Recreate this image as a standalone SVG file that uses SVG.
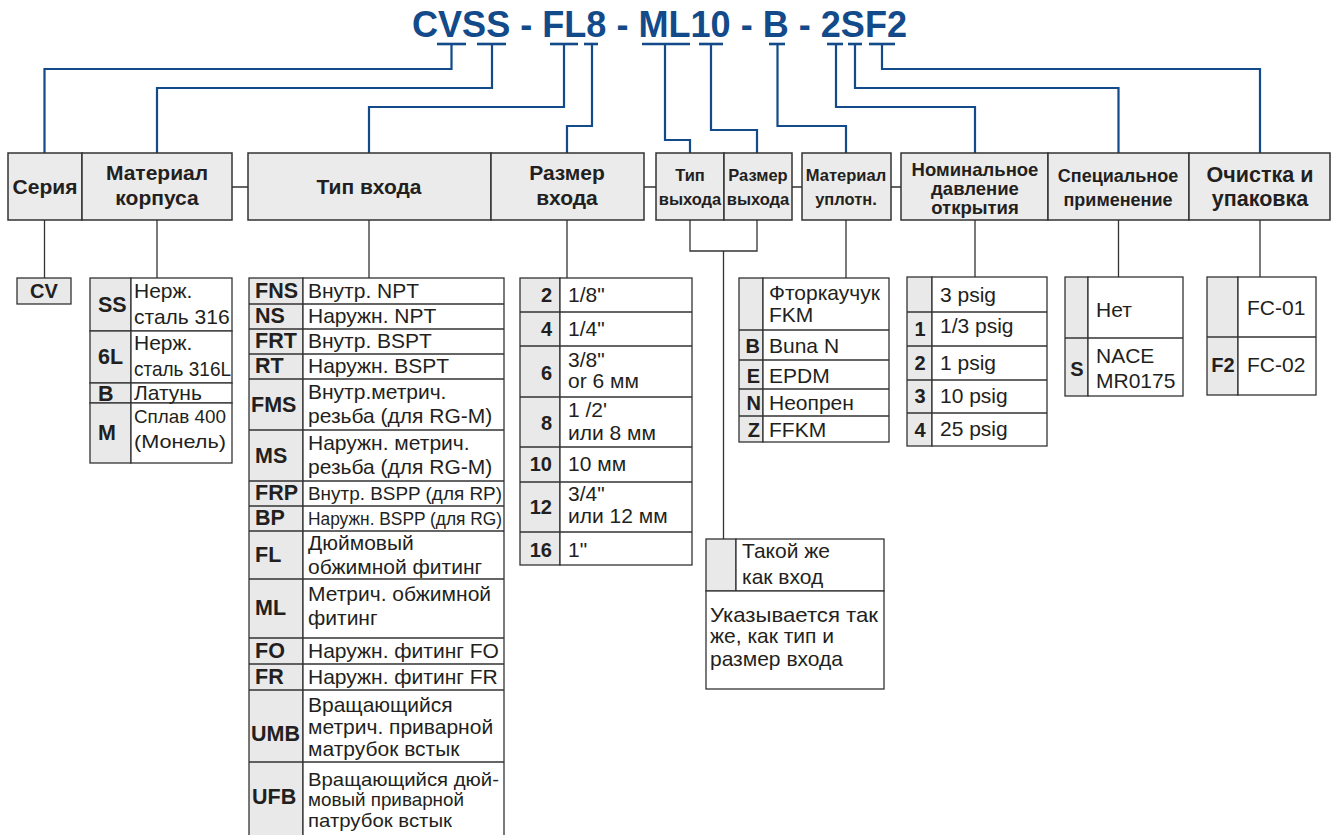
<svg xmlns="http://www.w3.org/2000/svg" width="1331" height="835" viewBox="0 0 1331 835">
<style>
.hdr{fill:#ebebeb;stroke:#333;stroke-width:1.5}
.key{fill:#e9e9e9;stroke:#333;stroke-width:1.3}
.cell{fill:#fff;stroke:#333;stroke-width:1.3}
.ln{stroke:#333;stroke-width:1.3;fill:none}
.bl{stroke:#124a8a;stroke-width:2.2;fill:none}
.bar{stroke:#124a8a;stroke-width:2.6}
.title{font-family:"Liberation Sans",Arial,sans-serif;font-weight:bold;font-size:36px;fill:#124a8a}
.ht{font-family:"Liberation Sans",Arial,sans-serif;font-weight:bold;font-size:21px;fill:#231f20;text-anchor:middle}
.hs{font-size:18.5px}
.hx{font-size:16.5px}
.t{font-family:"Liberation Sans",Arial,sans-serif;font-size:21px;fill:#231f20}
.k{font-family:"Liberation Sans",Arial,sans-serif;font-weight:bold;font-size:20px;fill:#231f20}
.kb{font-size:21.5px}
.r{text-anchor:end}
.m{text-anchor:middle}
</style>
<rect width="1331" height="835" fill="#fff"/>
<text class="title" x="412" y="37" textLength="495" lengthAdjust="spacingAndGlyphs">CVSS - FL8 - ML10 - B - 2SF2</text>

<g id="connectors">
<line class="bar" x1="437" y1="44" x2="466" y2="44"/>
<line class="bar" x1="477" y1="44" x2="506" y2="44"/>
<line class="bar" x1="550" y1="44" x2="578" y2="44"/>
<line class="bar" x1="584" y1="44" x2="598" y2="44"/>
<line class="bar" x1="642" y1="44" x2="690" y2="44"/>
<line class="bar" x1="699" y1="44" x2="723" y2="44"/>
<line class="bar" x1="769" y1="44" x2="785" y2="44"/>
<line class="bar" x1="827" y1="44" x2="843" y2="44"/>
<line class="bar" x1="848" y1="44" x2="862" y2="44"/>
<line class="bar" x1="869" y1="44" x2="895" y2="44"/>
<path class="bl" d="M451.5 44V69H44.5V153"/>
<path class="bl" d="M492 44V88H157V153"/>
<path class="bl" d="M564 44V107H369V153"/>
<path class="bl" d="M592 44V126H567V153"/>
<path class="bl" d="M665 44V140H690V153"/>
<path class="bl" d="M711 44V130H757V153"/>
<path class="bl" d="M777.5 44V126H846V153"/>
<path class="bl" d="M836 44V107H975V153"/>
<path class="bl" d="M855 44V88H1118.5V153"/>
<path class="bl" d="M882 44V69H1260V153"/>
<path class="ln" d="M232 187H248M644 187H656M792 187H802M891 187H901"/>
<path class="ln" d="M44.5 220V278M157 220V278M369 220V278M567 220V278"/>
<path class="ln" d="M690 220V251H757V220M723.5 251V539"/>
<path class="ln" d="M846 220V278M975 220V277M1118.5 220V277M1260 220V277"/>
</g>

<g id="header-series"><rect class="hdr" x="8" y="153" width="74" height="67"/><text class="ht" x="45" y="194">Серия</text></g>
<g id="header-body"><rect class="hdr" x="82" y="153" width="150" height="67"/><text class="ht" x="157" y="180">Материал</text><text class="ht" x="157" y="205">корпуса</text></g>
<g id="header-inlet-type"><rect class="hdr" x="248" y="153" width="243" height="67"/><text class="ht" x="369" y="194">Тип входа</text></g>
<g id="header-inlet-size"><rect class="hdr" x="491" y="153" width="153" height="67"/><text class="ht" x="567" y="180">Размер</text><text class="ht" x="567" y="205">входа</text></g>
<g id="header-outlet-type"><rect class="hdr" x="656" y="153" width="68" height="67"/><text class="ht hx" x="690" y="181">Тип</text><text class="ht hx" x="690" y="205">выхода</text></g>
<g id="header-outlet-size"><rect class="hdr" x="724" y="153" width="68" height="67"/><text class="ht hx" x="758" y="181">Размер</text><text class="ht hx" x="758" y="205">выхода</text></g>
<g id="header-seal"><rect class="hdr" x="802" y="153" width="89" height="67"/><text class="ht hx" x="846" y="181">Материал</text><text class="ht hx" x="846" y="205">уплотн.</text></g>
<g id="header-pressure"><rect class="hdr" x="901" y="153" width="147" height="67"/><text class="ht hs" x="975" y="176">Номинальное</text><text class="ht hs" x="975" y="195">давление</text><text class="ht hs" x="975" y="214">открытия</text></g>
<g id="header-special"><rect class="hdr" x="1048" y="153" width="141" height="67"/><text class="ht" style="font-size:18px" x="1118" y="182">Специальное</text><text class="ht" style="font-size:18px" x="1118" y="206">применение</text></g>
<g id="header-cleaning"><rect class="hdr" x="1189" y="153" width="141" height="67"/><text class="ht" style="font-size:21.5px" x="1260" y="182">Очистка и</text><text class="ht" style="font-size:21.5px" x="1260" y="206">упаковка</text></g>

<g id="series-table"><rect class="key" x="17" y="278" width="54" height="26"/><text class="k m" x="44" y="298">CV</text></g>

<g id="body-table">
<rect class="key" x="90" y="278" width="41" height="53"/><rect class="cell" x="131" y="278" width="101" height="53"/>
<rect class="key" x="90" y="331" width="41" height="52"/><rect class="cell" x="131" y="331" width="101" height="52"/>
<rect class="key" x="90" y="383" width="41" height="20"/><rect class="cell" x="131" y="383" width="101" height="20"/>
<rect class="key" x="90" y="403" width="41" height="60"/><rect class="cell" x="131" y="403" width="101" height="60"/>
<text class="k kb" x="98" y="312">SS</text><text class="t" x="134" y="298">Нерж.</text><text class="t" x="134" y="324">сталь 316</text>
<text class="k kb" x="98" y="364">6L</text><text class="t" x="134" y="350">Нерж.</text><text class="t" x="134" y="376" textLength="97" lengthAdjust="spacingAndGlyphs">сталь 316L</text>
<text class="k kb" x="98" y="401">B</text><text class="t" x="134" y="400">Латунь</text>
<text class="k kb" x="98" y="440">M</text><text class="t" style="font-size:19px" x="134" y="423" textLength="92" lengthAdjust="spacingAndGlyphs">Сплав 400</text><text class="t" style="font-size:19px" x="134" y="448" textLength="92" lengthAdjust="spacingAndGlyphs">(Монель)</text>
</g>

<g id="inlet-type-table">
<rect class="key" x="249" y="278" width="54" height="560"/>
<rect class="cell" x="303" y="278" width="201" height="560"/>
<path class="ln" d="M249 304H504M249 329H504M249 354H504M249 379H504M249 430H504M249 481H504M249 506H504M249 531H504M249 579H504M249 638H504M249 664H504M249 690H504M249 762H504"/>
<text class="k kb" x="255" y="298">FNS</text><text class="t" x="308" y="298">Внутр. NPT</text>
<text class="k kb" x="255" y="323">NS</text><text class="t" x="308" y="323">Наружн. NPT</text>
<text class="k kb" x="255" y="348">FRT</text><text class="t" x="308" y="348">Внутр. BSPT</text>
<text class="k kb" x="255" y="373">RT</text><text class="t" x="308" y="373">Наружн. BSPT</text>
<text class="k kb" x="251" y="412">FMS</text><text class="t" x="308" y="399">Внутр.метрич.</text><text class="t" x="308" y="423">резьба (для RG-M)</text>
<text class="k kb" x="255" y="463">MS</text><text class="t" x="308" y="450">Наружн. метрич.</text><text class="t" x="308" y="474">резьба (для RG-M)</text>
<text class="k kb" x="255" y="500">FRP</text><text class="t" style="font-size:18.5px" x="308" y="500" textLength="194" lengthAdjust="spacingAndGlyphs">Внутр. BSPP (для RP)</text>
<text class="k kb" x="255" y="525">BP</text><text class="t" style="font-size:17.5px" x="308" y="525" textLength="194" lengthAdjust="spacingAndGlyphs">Наружн. BSPP (для RG)</text>
<text class="k kb" x="255" y="562">FL</text><text class="t" x="308" y="550">Дюймовый</text><text class="t" x="308" y="574">обжимной фитинг</text>
<text class="k kb" x="255" y="615">ML</text><text class="t" x="308" y="601">Метрич. обжимной</text><text class="t" x="308" y="625">фитинг</text>
<text class="k kb" x="255" y="658">FO</text><text class="t" x="308" y="658">Наружн. фитинг FO</text>
<text class="k kb" x="255" y="684">FR</text><text class="t" x="308" y="684">Наружн. фитинг FR</text>
<text class="k kb" x="251" y="741">UMB</text><text class="t" x="308" y="712">Вращающийся</text><text class="t" x="308" y="734">метрич. приварной</text><text class="t" x="308" y="756">матрубок встык</text>
<text class="k kb" x="252" y="804">UFB</text><text class="t" style="font-size:19px" x="308" y="786" textLength="191" lengthAdjust="spacingAndGlyphs">Вращающийся дюй-</text><text class="t" style="font-size:19px" x="308" y="806" textLength="156" lengthAdjust="spacingAndGlyphs">мовый приварной</text><text class="t" style="font-size:19px" x="308" y="827" textLength="144" lengthAdjust="spacingAndGlyphs">патрубок встык</text>
</g>

<g id="inlet-size-table">
<rect class="key" x="520" y="278" width="40" height="287"/>
<rect class="cell" x="560" y="278" width="132" height="287"/>
<path class="ln" d="M520 312H692M520 346H692M520 397H692M520 447H692M520 482H692M520 532H692"/>
<text class="k r" x="552" y="302">2</text><text class="t" x="568" y="302">1/8"</text>
<text class="k r" x="552" y="336">4</text><text class="t" x="568" y="336">1/4"</text>
<text class="k r" x="552" y="380">6</text><text class="t" x="568" y="367">3/8"</text><text class="t" x="568" y="388">or 6 мм</text>
<text class="k r" x="552" y="430">8</text><text class="t" x="568" y="417">1 /2'</text><text class="t" x="568" y="440">или 8 мм</text>
<text class="k r" x="552" y="471">10</text><text class="t" x="568" y="471">10 мм</text>
<text class="k r" x="552" y="514">12</text><text class="t" x="568" y="501">3/4"</text><text class="t" x="568" y="523">или 12 мм</text>
<text class="k r" x="552" y="557">16</text><text class="t" x="568" y="557">1"</text>
</g>

<g id="outlet-table">
<rect class="key" x="706" y="539" width="30" height="52"/><rect class="cell" x="736" y="539" width="148" height="52"/>
<rect class="cell" x="706" y="591" width="178" height="98"/>
<text class="t" x="742" y="558">Такой же</text><text class="t" x="742" y="584">как вход</text>
<text class="t" x="710" y="622" textLength="168" lengthAdjust="spacingAndGlyphs">Указывается так</text><text class="t" x="710" y="643">же, как тип и</text><text class="t" x="710" y="666">размер входа</text>
</g>

<g id="seal-table">
<rect class="key" x="739" y="278" width="24" height="164"/>
<rect class="cell" x="763" y="278" width="126" height="164"/>
<path class="ln" d="M739 330H889M739 360H889M739 389H889M739 416H889"/>
<text class="t" x="769" y="300">Фторкаучук</text><text class="t" x="769" y="322">FKM</text>
<text class="k r" x="760" y="353">B</text><text class="t" x="769" y="353">Buna N</text>
<text class="k r" x="760" y="383">E</text><text class="t" x="769" y="383">EPDM</text>
<text class="k r" x="761" y="410">N</text><text class="t" x="769" y="410">Неопрен</text>
<text class="k r" x="760" y="437">Z</text><text class="t" x="769" y="437">FFKM</text>
</g>

<g id="pressure-table">
<rect class="key" x="907" y="277" width="25" height="169"/>
<rect class="cell" x="932" y="277" width="115" height="169"/>
<path class="ln" d="M907 312H1047M907 346H1047M907 380H1047M907 413H1047"/>
<text class="t" x="940" y="302">3 psig</text>
<text class="k m" x="920" y="336">1</text><text class="t" x="940" y="333">1/3 psig</text>
<text class="k m" x="920" y="370">2</text><text class="t" x="940" y="370">1 psig</text>
<text class="k m" x="920" y="403">3</text><text class="t" x="940" y="403">10 psig</text>
<text class="k m" x="920" y="437">4</text><text class="t" x="940" y="436">25 psig</text>
</g>

<g id="special-table">
<rect class="key" x="1065" y="277" width="23" height="119"/>
<rect class="cell" x="1088" y="277" width="95" height="119"/>
<path class="ln" d="M1065 338H1183"/>
<text class="t" x="1096" y="317">Нет</text>
<text class="k m" x="1077" y="376">S</text><text class="t" x="1096" y="363">NACE</text><text class="t" x="1096" y="388">MR0175</text>
</g>

<g id="cleaning-table">
<rect class="key" x="1207" y="277" width="31" height="118"/>
<rect class="cell" x="1238" y="277" width="78" height="118"/>
<path class="ln" d="M1207 337H1316"/>
<text class="t" x="1247" y="315">FC-01</text>
<text class="k m" x="1223" y="372">F2</text><text class="t" x="1247" y="372">FC-02</text>
</g>
</svg>
